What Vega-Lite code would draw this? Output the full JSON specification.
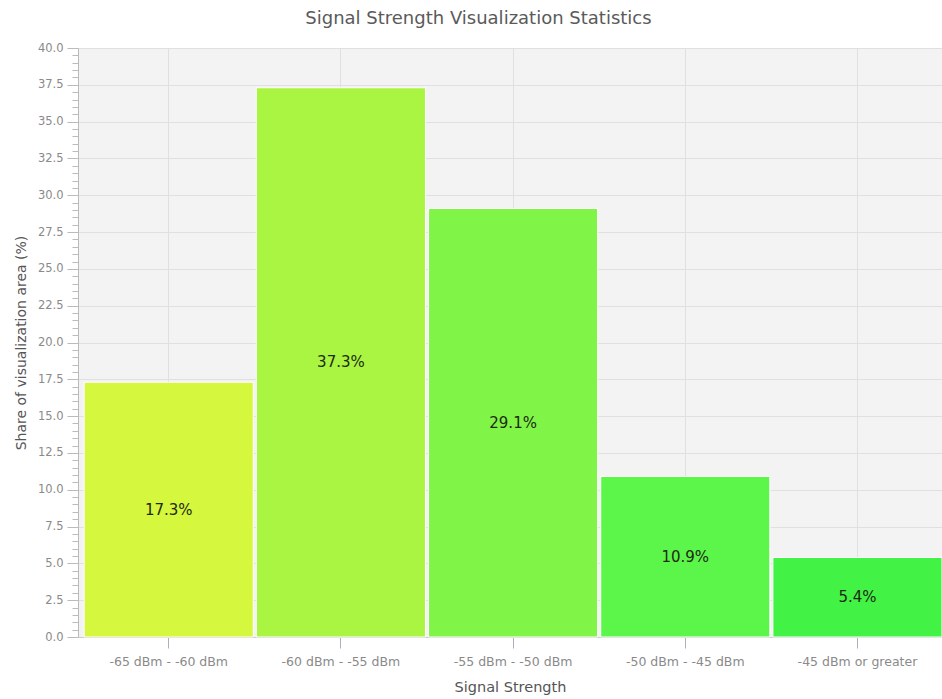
{
  "$schema": "https://vega.github.io/schema/vega-lite/v6.json",
  "width": 864,
  "height": 589,
  "autosize": "none",
  "padding": {"left": 78, "top": 48, "right": 0, "bottom": 62},
  "background": "white",
  "title": {
    "text": "Signal Strength Visualization Statistics",
    "font": "DejaVu Sans",
    "fontSize": 18,
    "fontWeight": "normal",
    "color": "#5a5a5a",
    "frame": "bounds",
    "anchor": "middle",
    "offset": 14
  },
  "config": {
    "view": {"fill": "#f3f3f3", "stroke": null}
  },
  "data": {
    "values": [
      {"range": "-65 dBm - -60 dBm", "share": 17.3},
      {"range": "-60 dBm - -55 dBm", "share": 37.3},
      {"range": "-55 dBm - -50 dBm", "share": 29.1},
      {"range": "-50 dBm - -45 dBm", "share": 10.9},
      {"range": "-45 dBm or greater", "share": 5.4}
    ]
  },
  "resolve": {"axis": {"y": "independent"}},
  "encoding": {
    "x": {
      "field": "range",
      "type": "nominal",
      "sort": null,
      "scale": {"paddingInner": 0.018, "paddingOuter": 0.018, "align": 1},
      "axis": {
        "title": "Signal Strength",
        "labelAngle": 0,
        "labelFont": "DejaVu Sans",
        "labelFontSize": 12.5,
        "labelColor": "#8a8a8a",
        "labelPadding": 7,
        "tickSize": 11,
        "tickColor": "#aab0c0",
        "domainColor": "#cccccc",
        "grid": true,
        "bandPosition": 0.5,
        "gridColor": "#e0e0e0",
        "titleFont": "DejaVu Sans",
        "titleFontSize": 14.5,
        "titleFontWeight": "normal",
        "titleColor": "#555555",
        "titlePadding": 13
      }
    }
  },
  "layer": [
    {
      "mark": {"type": "bar", "stroke": "white", "strokeWidth": 1},
      "encoding": {
        "y": {
          "field": "share",
          "type": "quantitative",
          "scale": {"domain": [0, 40], "nice": false},
          "axis": {
            "orient": "left",
            "values": [0, 0.5, 1, 1.5, 2, 2.5, 3, 3.5, 4, 4.5, 5, 5.5, 6, 6.5, 7, 7.5, 8, 8.5, 9, 9.5, 10, 10.5, 11, 11.5, 12, 12.5, 13, 13.5, 14, 14.5, 15, 15.5, 16, 16.5, 17, 17.5, 18, 18.5, 19, 19.5, 20, 20.5, 21, 21.5, 22, 22.5, 23, 23.5, 24, 24.5, 25, 25.5, 26, 26.5, 27, 27.5, 28, 28.5, 29, 29.5, 30, 30.5, 31, 31.5, 32, 32.5, 33, 33.5, 34, 34.5, 35, 35.5, 36, 36.5, 37, 37.5, 38, 38.5, 39, 39.5, 40],
            "labelExpr": "datum.value % 2.5 === 0 ? format(datum.value, '.1f') : ''",
            "labelOverlap": false,
            "labelFont": "DejaVu Sans",
            "labelFontSize": 11.5,
            "labelColor": "#8a8a8a",
            "labelPadding": 4,
            "tickSize": {"condition": {"test": "datum.value % 2.5 === 0", "value": 11}, "value": 6},
            "tickColor": "#bbbbbb",
            "domainColor": "#bbbbbb",
            "grid": true,
            "gridColor": "#e0e0e0",
            "gridOpacity": {"condition": {"test": "datum.value % 2.5 === 0", "value": 1}, "value": 0},
            "title": "Share of visualization area (%)",
            "titleFont": "DejaVu Sans",
            "titleFontSize": 14,
            "titleFontWeight": "normal",
            "titleColor": "#555555",
            "titlePadding": 9
          }
        },
        "color": {
          "field": "range",
          "type": "nominal",
          "sort": null,
          "scale": {"range": ["#d5f73d", "#aaf542", "#80f548", "#5cf54a", "#42f245"]},
          "legend": null
        }
      }
    },
    {
      "transform": [
        {"calculate": "datum.share / 2", "as": "mid"},
        {"calculate": "format(datum.share, '.1f') + '%'", "as": "label"}
      ],
      "mark": {"type": "text", "font": "DejaVu Sans", "fontSize": 15, "color": "#1e2a12", "baseline": "middle"},
      "encoding": {
        "y": {"field": "mid", "type": "quantitative", "axis": null},
        "text": {"field": "label", "type": "nominal"}
      }
    }
  ]
}
